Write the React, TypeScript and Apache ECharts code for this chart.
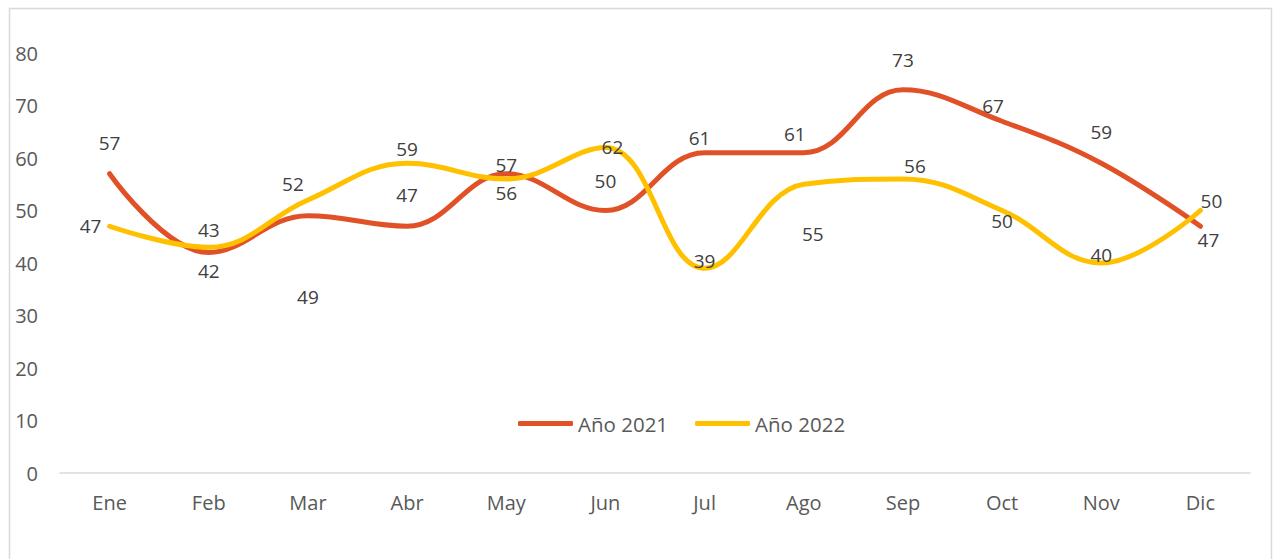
import React, { useEffect, useRef } from "react";
import * as echarts from "echarts";

const months = ["Ene", "Feb", "Mar", "Abr", "May", "Jun", "Jul", "Ago", "Sep", "Oct", "Nov", "Dic"];
const values2021 = [57, 42, 49, 47, 57, 50, 61, 61, 73, 67, 59, 47];
const values2022 = [47, 43, 52, 59, 56, 62, 39, 55, 56, 50, 40, 50];
const yTicks = [0, 10, 20, 30, 40, 50, 60, 70, 80];

// label offsets (style only)
const offsets2021 = [[0, -31], [0, 18], [0, 81], [0, -31], [0, -9], [0, -30], [-5, -15], [-9, -19], [0, -30], [-9, -15], [0, -31], [8, 14]];
const offsets2022 = [[-19, 0], [0, -17], [-15, -16], [0, -14], [0, 14], [7, -1], [0, -7], [9, 50], [12, -13], [0, 10], [0, -8], [11, -10]];

const FONT = "'Open Sans', 'Noto Sans', sans-serif";

function buildData(vals: number[], offs: number[][]) {
  return vals.map((v, i) => ({
    value: v,
    label: { position: "inside", offset: offs[i] },
  }));
}

export default function App() {
  const ref = useRef<HTMLDivElement>(null);
  useEffect(() => {
    if (!ref.current) return;
    const chart = echarts.init(ref.current, null, { renderer: "svg" });
    const labelStyle = {
      show: true,
      color: "#404040",
      fontSize: 19,
      fontFamily: FONT,
    };
    chart.setOption({
      animation: false,
      backgroundColor: "#ffffff",
      graphic: [
        {
          type: "rect",
          shape: { x: 9.5, y: 8.5, width: 1262, height: 570 },
          style: { fill: "none", stroke: "#d9d9d9", lineWidth: 1.5 },
          silent: true,
        },
      ],
      grid: { left: 60, right: 23, top: 53, bottom: 86, containLabel: false },
      legend: {
        data: ["Año 2021", "Año 2022"],
        top: 408,
        left: 513,
        itemWidth: 55,
        itemHeight: 5,
        itemGap: 27,
        icon: "roundRect",
        textStyle: { color: "#595959", fontSize: 20.5, fontFamily: FONT },
      },
      xAxis: {
        type: "category",
        data: months,
        boundaryGap: true,
        axisLine: { show: true, lineStyle: { color: "#d9d9d9", width: 1.5 } },
        axisTick: { show: false },
        axisLabel: { color: "#595959", fontSize: 20, fontFamily: FONT, margin: 19 },
      },
      yAxis: {
        type: "value",
        min: yTicks[0],
        max: yTicks[yTicks.length - 1],
        interval: 10,
        axisLine: { show: false },
        axisTick: { show: false },
        splitLine: { show: false },
        axisLabel: { color: "#595959", fontSize: 20, fontFamily: FONT, margin: 22 },
      },
      series: [
        {
          name: "Año 2021",
          type: "line",
          data: buildData(values2021, offsets2021),
          smooth: 0.4,
          symbol: "circle",
          symbolSize: 0,
          showSymbol: true,
          lineStyle: { color: "#E15127", width: 5, cap: "round" },
          itemStyle: { color: "#E15127" },
          label: labelStyle,
        },
        {
          name: "Año 2022",
          type: "line",
          data: buildData(values2022, offsets2022),
          smooth: 0.4,
          symbol: "circle",
          symbolSize: 0,
          showSymbol: true,
          lineStyle: { color: "#FFC000", width: 5, cap: "round" },
          itemStyle: { color: "#FFC000" },
          label: labelStyle,
        },
      ],
    });
    return () => chart.dispose();
  }, []);
  return (
    <div
      ref={ref}
      style={{ position: "fixed", left: 0, top: 0, width: 1273, height: 559 }}
    />
  );
}
